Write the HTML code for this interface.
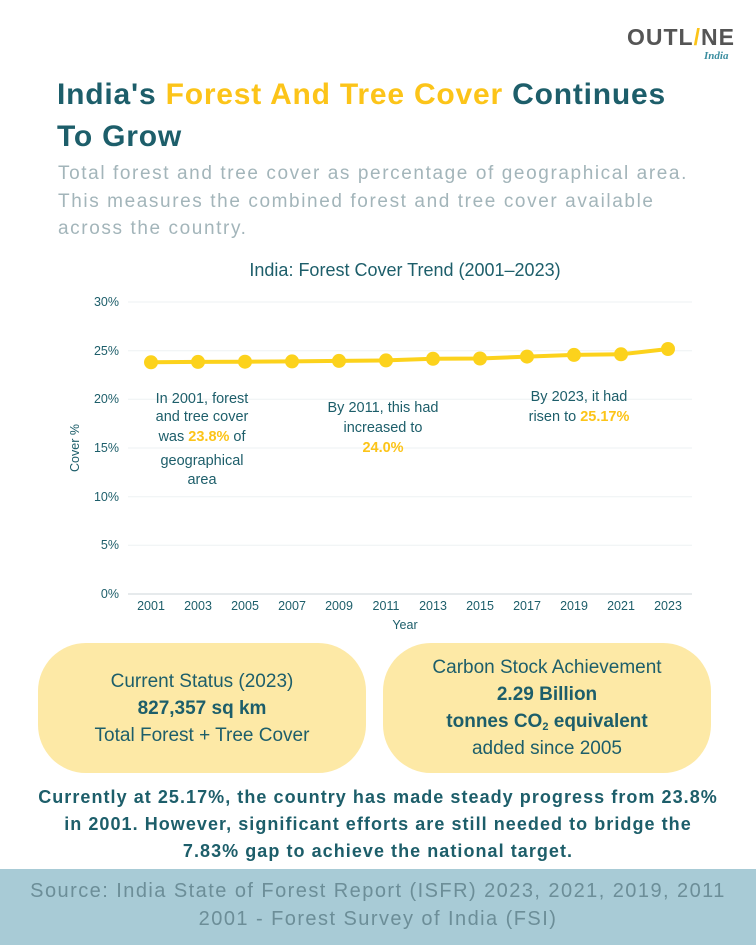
<!DOCTYPE html>
<html><head><meta charset="utf-8"><style>
body{margin:0;width:756px;height:945px;background:#fff;font-family:"Liberation Sans",sans-serif;position:relative;overflow:hidden}
.a{position:absolute;white-space:nowrap}
.t{left:57px;top:74px;font-size:30px;font-weight:bold;color:#1d5e6a;line-height:42px;letter-spacing:0.8px}
.y{color:#fcc419}
.s{left:58px;top:160px;font-size:19px;color:#a3b5ba;line-height:27.5px;letter-spacing:1.6px}
.pill{background:#fde9a6;border-radius:48px;text-align:center;color:#1d5e6a;font-size:19px;line-height:27px}
.b{left:0;top:784px;width:756px;text-align:center;font-weight:bold;font-size:18px;color:#1d5e6a;line-height:27px;letter-spacing:1.05px}
.f{left:0;top:869px;width:756px;height:76px;background:#a8cbd6;text-align:center;color:#6c8e98;font-size:20px;line-height:28px;padding-top:8px;box-sizing:border-box;letter-spacing:1.45px}
sub{font-size:11px;line-height:0;vertical-align:-3px}
</style></head><body>
<div class="a" style="left:627px;top:24px;font-size:23px;font-weight:bold;color:#555;letter-spacing:1px">OUTL<span style="color:#fcc419">/</span>NE</div>
<div class="a" style="left:704px;top:50px;font-size:11px;font-style:italic;font-weight:bold;color:#3b8ea0;font-family:'Liberation Serif',serif">India</div>
<div class="a t">India's <span class="y">Forest And Tree Cover</span> Continues<br>To Grow</div>
<div class="a s">Total forest and tree cover as percentage of geographical area.<br>This measures the combined forest and tree cover available<br>across the country.</div>
<svg class="a" style="left:0;top:250px" width="756" height="390" viewBox="0 250 756 390" font-family="Liberation Sans, sans-serif">
<text x="405" y="276" font-size="18" fill="#1d5e6a" text-anchor="middle">India: Forest Cover Trend (2001–2023)</text>
<g stroke="#eef2f3" stroke-width="1">
<line x1="128" x2="692" y1="302" y2="302"/><line x1="128" x2="692" y1="350.7" y2="350.7"/><line x1="128" x2="692" y1="399.3" y2="399.3"/><line x1="128" x2="692" y1="448" y2="448"/><line x1="128" x2="692" y1="496.7" y2="496.7"/><line x1="128" x2="692" y1="545.3" y2="545.3"/></g>
<line x1="128" x2="692" y1="594" y2="594" stroke="#ccd6d9"/>
<g font-size="12.5" fill="#1d5e6a" text-anchor="end">
<text x="119" y="306">30%</text><text x="119" y="355">25%</text><text x="119" y="403">20%</text><text x="119" y="452">15%</text><text x="119" y="501">10%</text><text x="119" y="549">5%</text><text x="119" y="598">0%</text></g>
<g font-size="12.5" fill="#1d5e6a" text-anchor="middle">
<text x="151" y="610">2001</text><text x="198" y="610">2003</text><text x="245" y="610">2005</text><text x="292" y="610">2007</text><text x="339" y="610">2009</text><text x="386" y="610">2011</text><text x="433" y="610">2013</text><text x="480" y="610">2015</text><text x="527" y="610">2017</text><text x="574" y="610">2019</text><text x="621" y="610">2021</text><text x="668" y="610">2023</text>
<text x="405" y="629">Year</text></g>
<text transform="translate(79,448) rotate(-90)" font-size="12.5" fill="#1d5e6a" text-anchor="middle">Cover %</text>
<polyline fill="none" stroke="#fcd21c" stroke-width="4" points="151,362.3 198,361.9 245,361.7 292,361.4 339,360.9 386,360.4 433,358.8 480,358.5 527,356.6 574,354.9 621,354.3 668,349"/>
<g fill="#fcd21c"><circle cx="151" cy="362.3" r="7"/><circle cx="198" cy="361.9" r="7"/><circle cx="245" cy="361.7" r="7"/><circle cx="292" cy="361.4" r="7"/><circle cx="339" cy="360.9" r="7"/><circle cx="386" cy="360.4" r="7"/><circle cx="433" cy="358.8" r="7"/><circle cx="480" cy="358.5" r="7"/><circle cx="527" cy="356.6" r="7"/><circle cx="574" cy="354.9" r="7"/><circle cx="621" cy="354.3" r="7"/><circle cx="668" cy="349" r="7"/></g>
<g font-size="14.5" fill="#1d5e6a" text-anchor="middle">
<text x="202" y="403">In 2001, forest</text><text x="202" y="421">and tree cover</text><text x="202" y="441">was <tspan fill="#fcc419" font-weight="bold">23.8%</tspan> of</text><text x="202" y="465">geographical</text><text x="202" y="484">area</text>
<text x="383" y="412">By 2011, this had</text><text x="383" y="432">increased to</text><text x="383" y="452" fill="#fcc419" font-weight="bold">24.0%</text>
<text x="579" y="401">By 2023, it had</text><text x="579" y="421">risen to <tspan fill="#fcc419" font-weight="bold">25.17%</tspan></text></g>
</svg>
<div class="a pill" style="left:38px;top:643px;width:328px;height:130px;padding-top:25px;box-sizing:border-box">Current Status (2023)<br><b>827,357 sq km</b><br>Total Forest + Tree Cover</div>
<div class="a pill" style="left:383px;top:643px;width:328px;height:130px;padding-top:11px;box-sizing:border-box">Carbon Stock Achievement<br><b>2.29 Billion</b><br><b>tonnes CO<sub>2</sub> equivalent</b><br>added since 2005</div>
<div class="a b">Currently at 25.17%, the country has made steady progress from 23.8%<br>in 2001. However, significant efforts are still needed to bridge the<br>7.83% gap to achieve the national target.</div>
<div class="a f">Source: India State of Forest Report (ISFR) 2023, 2021, 2019, 2011<br>2001 - Forest Survey of India (FSI)</div>
</body></html>
